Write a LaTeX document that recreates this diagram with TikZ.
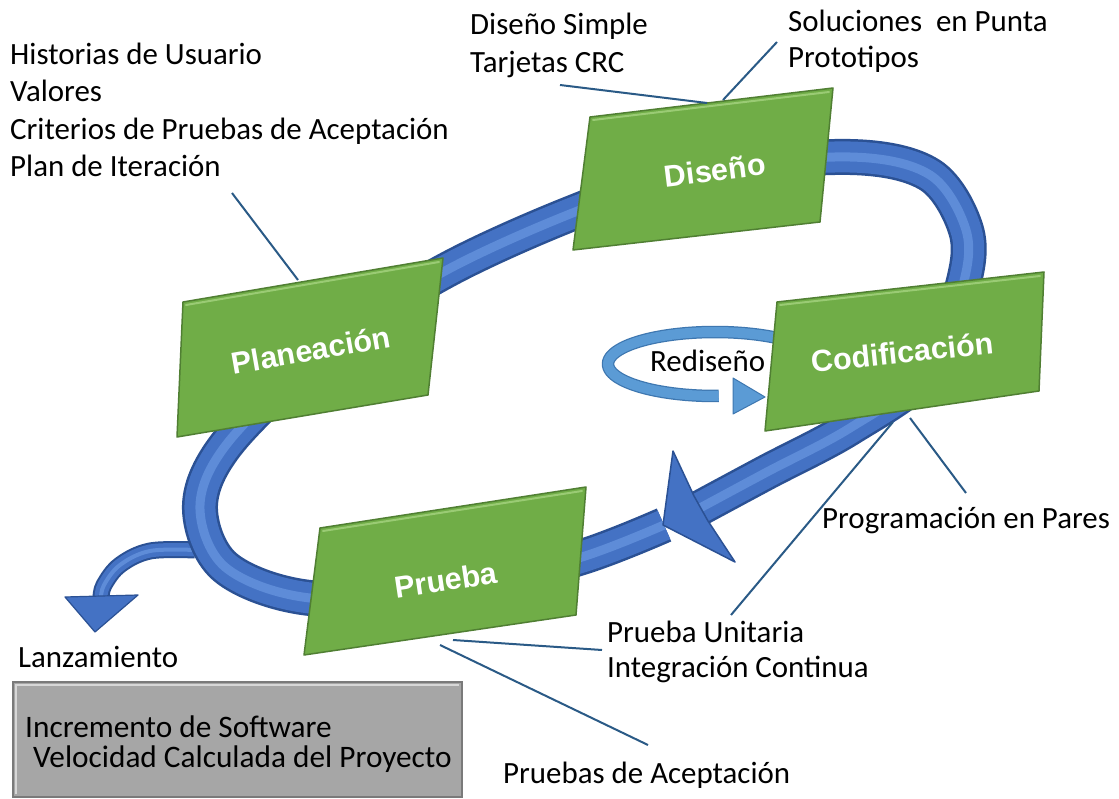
\documentclass[tikz,border=0pt]{standalone}
\usepackage{fontspec}
\setmainfont{Carlito}
\newfontfamily\boxfont{Liberation Sans}
\definecolor{bandedge}{HTML}{2B5194}
\definecolor{bandmain}{HTML}{4472C4}
\definecolor{bandhi}{HTML}{5E8CD8}
\definecolor{greenfill}{HTML}{70AD47}
\definecolor{greenedge}{HTML}{507F33}
\definecolor{greenhi}{HTML}{9ACB74}
\definecolor{ringmain}{HTML}{5B9BD5}
\definecolor{ringedge}{HTML}{3E77B0}
\definecolor{callout}{HTML}{2A5A86}
\definecolor{grayfill}{HTML}{A6A6A6}
\definecolor{grayedge}{HTML}{7A7A7A}
\begin{document}
\begin{tikzpicture}[x=1pt,y=-1pt,
  lbl/.style={anchor=base west, inner sep=0pt, font=\fontsize{30.9}{37}\selectfont},
  boxlbl/.style={inner sep=0pt, text=white, font=\boxfont\bfseries\fontsize{30.5}{32}\selectfont},
  gbox/.style={fill=greenfill, draw=greenedge, line width=1.5, line join=round},
  gboxhi/.style={draw=greenhi, line width=2, line cap=round},
  callline/.style={draw=callout, line width=2}]
\useasboundingbox (0,0) rectangle (1119,799);
\fill[white] (0,0) rectangle (1119,799);

% Lanzamiento branch
\def\branchpath{plot[smooth,tension=0.6] coordinates {(195,550) (150,551) (120,565) (104,585) (101,598)}}
\draw[bandedge, line width=17] \branchpath;
\draw[bandmain, line width=13] \branchpath;
\draw[bandhi, line width=4] \branchpath;
\filldraw[fill=bandmain, draw=bandedge, line width=1.2, line join=round] (65,597) -- (138,595) -- (95,632) -- cycle;

% main loop band
\def\looppath{plot[smooth,tension=0.55] coordinates {(664,525) (582,557) (450,592) (310,598) (225,567) (200,505) (230,440) (330,345) (445,271) (575,212) (700,170) (850,157) (930,175) (966,230) (963,285) (930,370) (850,428) (767,472) (700,508)}}
\draw[bandedge, line width=36] \looppath;
\draw[bandmain, line width=31] \looppath;
\draw[bandhi, line width=9] \looppath;
\filldraw[fill=bandmain, draw=bandedge, line width=1.5, line join=round]
  (673,451) -- (694,496) -- (708,521) -- (735,562) -- (663,525) -- cycle;

% Rediseno ring
\def\ringpath{plot[domain=25:272, samples=70, smooth, variable=\t] ({715+107*cos(\t)},{364-32*sin(\t)})}
\draw[ringedge, line width=12.5] \ringpath;
\draw[ringmain, line width=10] \ringpath;
\filldraw[fill=ringmain, draw=ringedge, line width=1, line join=round] (733,378) -- (765,397) -- (733,414) -- cycle;

% green boxes
\filldraw[gbox] (590,117) -- (833,88) -- (820,222) -- (573,250) -- cycle;
\draw[gboxhi] (593,120) -- (829,92);
\filldraw[gbox] (777,302) -- (1044,272) -- (1039,391) -- (765,431) -- cycle;
\draw[gboxhi] (780,305) -- (1040,276);
\filldraw[gbox] (183,302) -- (443,258) -- (428,395) -- (177,437) -- cycle;
\draw[gboxhi] (186,305) -- (439,262);
\filldraw[gbox] (320,528) -- (586,487) -- (576,615) -- (304,655) -- cycle;
\draw[gboxhi] (323,531) -- (582,491);

\node[boxlbl, rotate=7] (dis) at (715,170) {Diseño};
\node[boxlbl, rotate=6] (cod) at (902,352) {Codificación};
\node[boxlbl, rotate=10] (pla) at (311,350) {Planeación};
\node[boxlbl, rotate=8.5] (pru) at (446,580) {Prueba};

% gray box
\filldraw[fill=grayfill, draw=grayedge, line width=2] (13,682) rectangle (462,797);
\draw[white!55!grayfill, line width=2] (16,794) -- (16,685) -- (459,685);
\node[lbl, font=\fontsize{31.3}{30}\selectfont] (inc) at (25,737) {Incremento de Software};
\node[lbl, font=\fontsize{31.3}{30}\selectfont] (vel) at (33,767) {Velocidad Calculada del Proyecto};

% texts
\node[lbl] (t1) at (10,65) {Historias de Usuario};
\node[lbl] (t2) at (10,102) {Valores};
\node[lbl] (t3) at (10,140) {Criterios de Pruebas de Aceptación};
\node[lbl] (t4) at (10,177) {Plan de Iteración};
\node[lbl] (t5) at (470,35) {Diseño Simple};
\node[lbl] (t6) at (470,73) {Tarjetas CRC};
\node[lbl] (t7) at (788,32) {Soluciones\ \ en Punta};
\node[lbl] (t8) at (788,68) {Prototipos};
\node[lbl] (t9) at (822,528) {Programación en Pares};
\node[lbl] (t10) at (607,642) {Prueba Unitaria};
\node[lbl] (t11) at (607,677) {Integración Continua};
\node[lbl] (t12) at (503,783) {Pruebas de Aceptación};
\node[lbl] (t13) at (18,667) {Lanzamiento};
\node[lbl] (t14) at (650,372) {Rediseño};

% callout lines
\coordinate (c1a) at (560,85);  \coordinate (c1b) at (707,103);
\coordinate (c2a) at (777,42);  \coordinate (c2b) at (723,100);
\coordinate (c3a) at (232,193); \coordinate (c3b) at (298,280);
\coordinate (c4a) at (910,418); \coordinate (c4b) at (966,493);
\coordinate (c5a) at (893,422); \coordinate (c5b) at (731,615);
\coordinate (c6a) at (453,640); \coordinate (c6b) at (602,650);
\coordinate (c7a) at (440,645); \coordinate (c7b) at (648,745);
\draw[callline] (c1a) -- (c1b);
\draw[callline] (c2a) -- (c2b);
\draw[callline] (c3a) -- (c3b);
\draw[callline] (c4a) -- (c4b);
\draw[callline] (c5a) -- (c5b);
\draw[callline] (c6a) -- (c6b);
\draw[callline] (c7a) -- (c7b);
\end{tikzpicture}
\end{document}
